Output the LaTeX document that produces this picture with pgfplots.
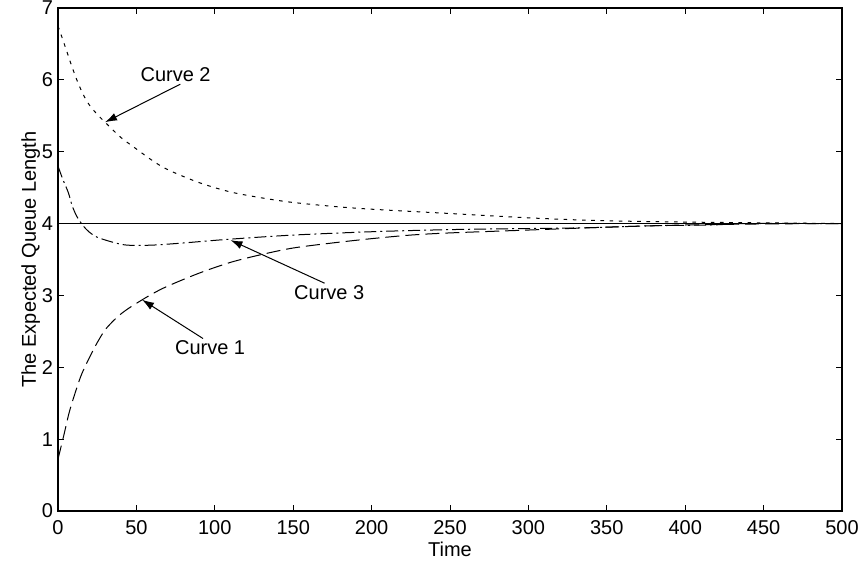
\documentclass[border=0pt]{standalone}
\usepackage{fontspec}
\setmainfont{Liberation Sans}
\usepackage{pgfplots}
\pgfplotsset{compat=1.18}
\usetikzlibrary{arrows.meta}

\pgfplotstableread{
t q
0 0.72
2 0.90
4 1.08
7 1.36
10 1.58
15 1.90
22 2.22
26 2.38
30 2.52
35 2.64
40 2.74
45 2.82
50 2.89
60 3.02
70 3.13
90 3.31
110 3.46
130 3.57
150 3.66
175 3.73
200 3.79
225 3.84
250 3.87
300 3.91
350 3.95
400 3.98
450 3.995
500 4.0
}\curveone

\pgfplotstableread{
t q
0 6.75
4 6.50
8 6.24
12 6.00
16 5.80
20 5.65
25 5.52
30 5.41
40 5.20
48 5.07
60 4.88
70 4.75
90 4.57
112 4.43
144 4.31
175 4.24
200 4.20
250 4.14
300 4.08
333 4.05
370 4.03
404 4.02
450 4.01
500 4.0
}\curvetwo

\pgfplotstableread{
t q
0 4.80
3 4.62
6.6 4.43
9 4.25
12 4.10
16 3.97
20 3.88
25 3.81
35 3.74
44 3.70
60 3.70
80 3.73
108 3.78
150 3.84
205 3.89
260 3.92
333 3.94
380 3.97
416 3.98
440 4.0
500 4.0
}\curvethree

\begin{document}
\begin{tikzpicture}
\begin{axis}[
    name=ax,
    scale only axis,
    width=392pt, height=251.5pt,
    xmin=0, xmax=500, ymin=0, ymax=7,
    xtick={0,50,...,500},
    ytick={0,1,...,7},
    tick align=inside,
    major tick length=3pt,
    tick style={black, line width=0.5pt},
    axis line style={line width=0.7pt},
    ticklabel style={font=\fontsize{10}{12}\selectfont},
    /pgf/number format/assume math mode=true,
    xticklabel style={yshift=-1pt},
    yticklabel style={xshift=1pt},
    xlabel={Time},
    ylabel={The Expected Queue Length},
    label style={font=\fontsize{10}{12}\selectfont},
    xlabel style={yshift=3pt},
    ylabel style={yshift=-6pt},
]
\addplot[black, line width=0.5pt] coordinates {(0,4) (500,4)};
\addplot[black, line width=0.5pt, smooth, dash pattern=on 7pt off 3pt] table[x=t,y=q] {\curveone};
\addplot[black, line width=0.5pt, smooth, dash pattern=on 1.8pt off 2.8pt] table[x=t,y=q] {\curvetwo};
\addplot[black, line width=0.5pt, smooth, dash pattern=on 6pt off 2pt on 1pt off 2pt] table[x=t,y=q] {\curvethree};

\draw[line width=0.5pt, -{Latex[length=6pt,width=4pt]}] (axis cs:78,5.94) -- (axis cs:30,5.41);
\node[font=\fontsize{10}{12}\selectfont] at (axis cs:75,6.07) {Curve 2};
\draw[line width=0.5pt, -{Latex[length=6pt,width=4pt]}] (axis cs:170,3.17) -- (axis cs:110,3.77);
\node[font=\fontsize{10}{12}\selectfont] at (axis cs:173,3.04) {Curve 3};
\draw[line width=0.5pt, -{Latex[length=6pt,width=4pt]}] (axis cs:92.5,2.40) -- (axis cs:53.6,2.94);
\node[font=\fontsize{10}{12}\selectfont] at (axis cs:97,2.27) {Curve 1};
\end{axis}
\pgfresetboundingbox
\useasboundingbox ([xshift=-29pt,yshift=-28pt]ax.south west) rectangle ([xshift=10.5pt,yshift=4pt]ax.north east);
\end{tikzpicture}
\end{document}
